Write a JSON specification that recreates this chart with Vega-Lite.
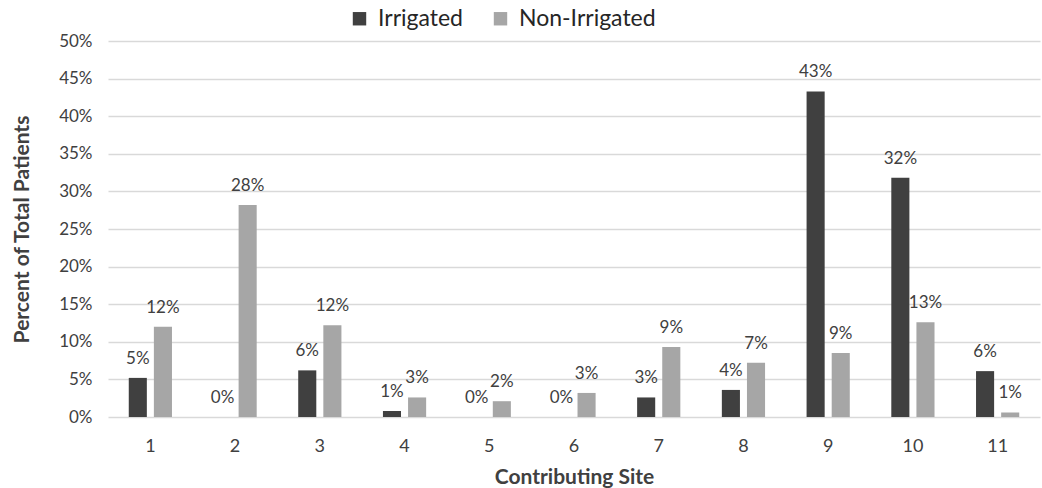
{
  "$schema": "https://vega.github.io/schema/vega-lite/v6.json",
  "width": 932,
  "height": 376,
  "autosize": {"type": "none"},
  "padding": {"left": 108, "top": 41, "right": 2, "bottom": 71},
  "background": "white",
  "config": {
    "font": "Lato",
    "view": {"stroke": null},
    "axis": {"labelColor": "#404040", "titleColor": "#404040", "labelFont": "Lato", "titleFont": "Lato"}
  },
  "data": {
    "values": [
      {"site": "1", "group": "Irrigated", "pct": 0.052},
      {"site": "1", "group": "Non-Irrigated", "pct": 0.12},
      {"site": "2", "group": "Irrigated", "pct": 0.0},
      {"site": "2", "group": "Non-Irrigated", "pct": 0.282},
      {"site": "3", "group": "Irrigated", "pct": 0.062},
      {"site": "3", "group": "Non-Irrigated", "pct": 0.122},
      {"site": "4", "group": "Irrigated", "pct": 0.008},
      {"site": "4", "group": "Non-Irrigated", "pct": 0.026},
      {"site": "5", "group": "Irrigated", "pct": 0.0},
      {"site": "5", "group": "Non-Irrigated", "pct": 0.021},
      {"site": "6", "group": "Irrigated", "pct": 0.0},
      {"site": "6", "group": "Non-Irrigated", "pct": 0.032},
      {"site": "7", "group": "Irrigated", "pct": 0.026},
      {"site": "7", "group": "Non-Irrigated", "pct": 0.093},
      {"site": "8", "group": "Irrigated", "pct": 0.036},
      {"site": "8", "group": "Non-Irrigated", "pct": 0.072},
      {"site": "9", "group": "Irrigated", "pct": 0.433},
      {"site": "9", "group": "Non-Irrigated", "pct": 0.085},
      {"site": "10", "group": "Irrigated", "pct": 0.318},
      {"site": "10", "group": "Non-Irrigated", "pct": 0.126},
      {"site": "11", "group": "Irrigated", "pct": 0.061},
      {"site": "11", "group": "Non-Irrigated", "pct": 0.006}
    ]
  },
  "encoding": {
    "x": {
      "field": "site", "type": "ordinal", "sort": null,
      "scale": {"paddingInner": 0.49, "paddingOuter": 0.245},
      "axis": {
        "title": "Contributing Site", "titleFontSize": 21, "titleFontWeight": "bold", "titlePadding": 11,
        "labelAngle": 0, "labelFontSize": 18, "labelPadding": 20, "ticks": false, "domain": false, "grid": false
      }
    },
    "xOffset": {"field": "group", "type": "nominal", "scale": {"paddingInner": 0.28}},
    "y": {
      "field": "pct", "type": "quantitative",
      "scale": {"domain": [0, 0.5], "nice": false},
      "axis": {
        "title": "Percent of Total Patients", "titleFontSize": 21, "titleFontWeight": "bold", "titlePadding": 26,
        "format": ".0%", "values": [0, 0.05, 0.1, 0.15, 0.2, 0.25, 0.3, 0.35, 0.4, 0.45, 0.5],
        "labelFontSize": 17, "labelPadding": 16, "ticks": false, "domain": false,
        "gridColor": "#d9d9d9", "gridWidth": 1.5
      }
    }
  },
  "layer": [
    {
      "mark": {"type": "bar"},
      "encoding": {
        "color": {
          "field": "group", "type": "nominal",
          "scale": {"domain": ["Irrigated", "Non-Irrigated"], "range": ["#404040", "#a6a6a6"]},
          "legend": {
            "title": null, "orient": "none", "direction": "horizontal",
            "legendX": 240, "legendY": -34,
            "symbolType": "square", "symbolSize": 180, "symbolStrokeWidth": 0,
            "labelFontSize": 23, "labelColor": "#262626", "columnPadding": 26, "labelOffset": 7
          }
        }
      }
    },
    {
      "mark": {"type": "text", "baseline": "bottom", "dy": -10, "fontSize": 17, "color": "#404040"},
      "encoding": {
        "text": {"field": "pct", "type": "quantitative", "format": ".0%"}
      }
    }
  ]
}
